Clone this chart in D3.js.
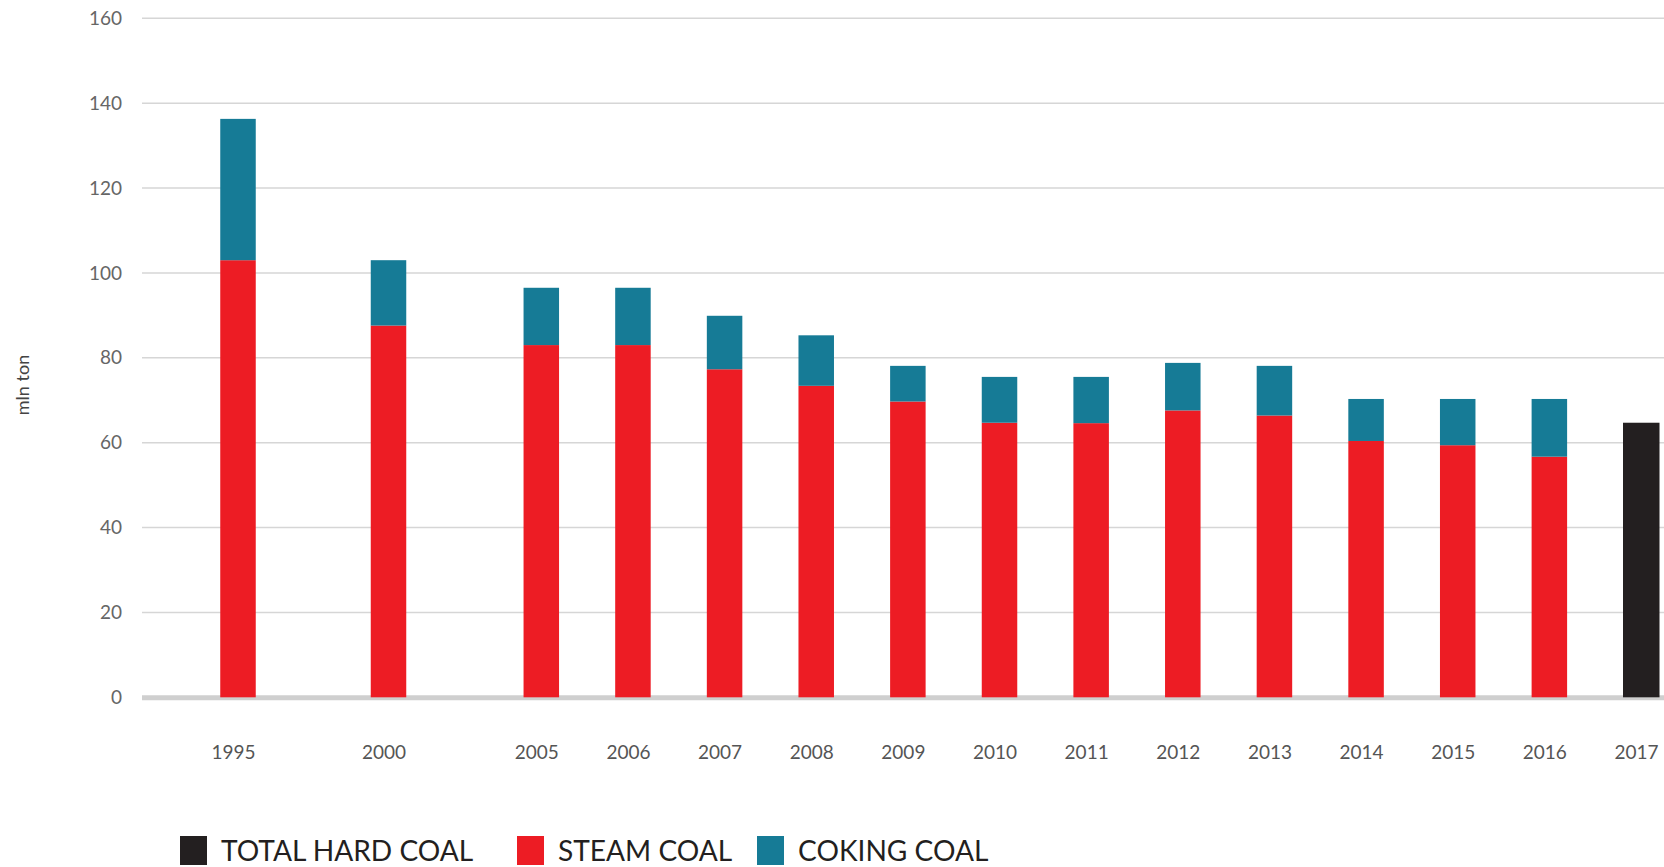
<!DOCTYPE html>
<html>
<head>
<meta charset="utf-8">
<script src="https://cdn.jsdelivr.net/npm/d3@7/dist/d3.min.js"></script>
<style>
  html, body { margin: 0; padding: 0; background: #fff; }
  svg { display: block; }
  text { font-family: Lato, "Open Sans", sans-serif; }
</style>
</head>
<body>
<svg id="chart" width="1664" height="867"></svg>
<script>
// Hard coal output, mln ton
const years = [1995, 2000, 2005, 2006, 2007, 2008, 2009, 2010, 2011, 2012, 2013, 2014, 2015, 2016, 2017];
const steamCoal  = [103.0, 87.6, 83.0, 83.0, 77.3, 73.4, 69.7, 64.7, 64.6, 67.6, 66.4, 60.4, 59.4, 56.7, null];
const cokingCoal = [33.3, 15.4, 13.5, 13.5, 12.6, 11.9, 8.4, 10.8, 10.9, 11.2, 11.7, 9.9, 10.9, 13.6, null];
const totalHardCoal = [null, null, null, null, null, null, null, null, null, null, null, null, null, null, 64.7];
const yTicks = [0, 20, 40, 60, 80, 100, 120, 140, 160];
const legendLabels = ["TOTAL HARD COAL", "STEAM COAL", "COKING COAL"];

const colors = { total: "#231f20", steam: "#ed1c24", coking: "#167b96" };

const svg = d3.select("#chart");

// Vertical value scale
const y = d3.scaleLinear().domain([0, 160]).range([697.3, 18.3]);

// Year axis: the early years (1995, 2000) sit closer together than the annual run
const x = d3.scaleLinear()
  .domain([1995, 2000, 2005, 2017])
  .range([238, 388.5, 541.3, 1641]);

const barW = 35.5;
const gridLeft = 142, gridRight = 1664;

// Gridlines
svg.append("g")
  .selectAll("line")
  .data(yTicks.filter(t => t > 0))
  .join("line")
  .attr("x1", gridLeft).attr("x2", gridRight)
  .attr("y1", d => y(d)).attr("y2", d => y(d))
  .attr("stroke", "#d6d6d6")
  .attr("stroke-width", 1.5);

// Baseline
svg.append("line")
  .attr("x1", gridLeft).attr("x2", gridRight)
  .attr("y1", y(0) + 0.4).attr("y2", y(0) + 0.4)
  .attr("stroke", "#cfcfcf")
  .attr("stroke-width", 5);

// Y axis labels
const yAxis = d3.axisLeft(y).tickValues(yTicks).tickSize(0).tickPadding(0);
const yg = svg.append("g").attr("transform", "translate(122,0)").call(yAxis);
yg.select(".domain").remove();
yg.selectAll("text")
  .attr("fill", "#666")
  .attr("font-size", 19)
  .attr("font-family", "Lato, sans-serif");

// Axis title
svg.append("text")
  .attr("transform", "translate(29,385) rotate(-90)")
  .attr("text-anchor", "middle")
  .attr("font-size", 18)
  .attr("fill", "#444")
  .text("mln ton");

// Stacked bars
const rows = years.map((yr, i) => ({ year: yr, steam: steamCoal[i], coking: cokingCoal[i], total: totalHardCoal[i] }));
const bars = svg.append("g");

bars.selectAll("rect.steam")
  .data(rows.filter(d => d.steam != null))
  .join("rect")
  .attr("class", "steam")
  .attr("x", d => x(d.year) - barW / 2)
  .attr("width", barW)
  .attr("y", d => y(d.steam))
  .attr("height", d => y(0) - y(d.steam))
  .attr("fill", colors.steam);

bars.selectAll("rect.coking")
  .data(rows.filter(d => d.coking != null))
  .join("rect")
  .attr("class", "coking")
  .attr("x", d => x(d.year) - barW / 2)
  .attr("width", barW)
  .attr("y", d => y(d.steam + d.coking))
  .attr("height", d => y(d.steam) - y(d.steam + d.coking))
  .attr("fill", colors.coking);

bars.selectAll("rect.total")
  .data(rows.filter(d => d.total != null))
  .join("rect")
  .attr("class", "total")
  .attr("x", d => x(d.year) - 18)
  .attr("width", 36.5)
  .attr("y", d => y(d.total))
  .attr("height", d => y(0) - y(d.total))
  .attr("fill", colors.total);

// X axis labels
const xAxis = d3.axisBottom(x).tickValues(years).tickFormat(d3.format("d")).tickSize(0).tickPadding(0);
const xg = svg.append("g").attr("transform", "translate(-5,745)").call(xAxis);
xg.select(".domain").remove();
xg.selectAll("text")
  .attr("fill", "#555")
  .attr("font-size", 19)
  .attr("font-family", "Lato, sans-serif")
  .attr("dy", "0.72em");

// Legend
const legendItems = [
  { label: legendLabels[0], color: colors.total, x: 180 },
  { label: legendLabels[1], color: colors.steam, x: 517 },
  { label: legendLabels[2], color: colors.coking, x: 757 }
];
const lg = svg.append("g").selectAll("g").data(legendItems).join("g")
  .attr("transform", d => `translate(${d.x},836)`);
lg.append("rect")
  .attr("width", 27).attr("height", 29)
  .attr("fill", d => d.color);
lg.append("text")
  .attr("transform", "translate(41,25) scale(0.97,1)")
  .attr("font-size", 29)
  .attr("fill", "#231f20")
  .text(d => d.label);
</script>
</body>
</html>
